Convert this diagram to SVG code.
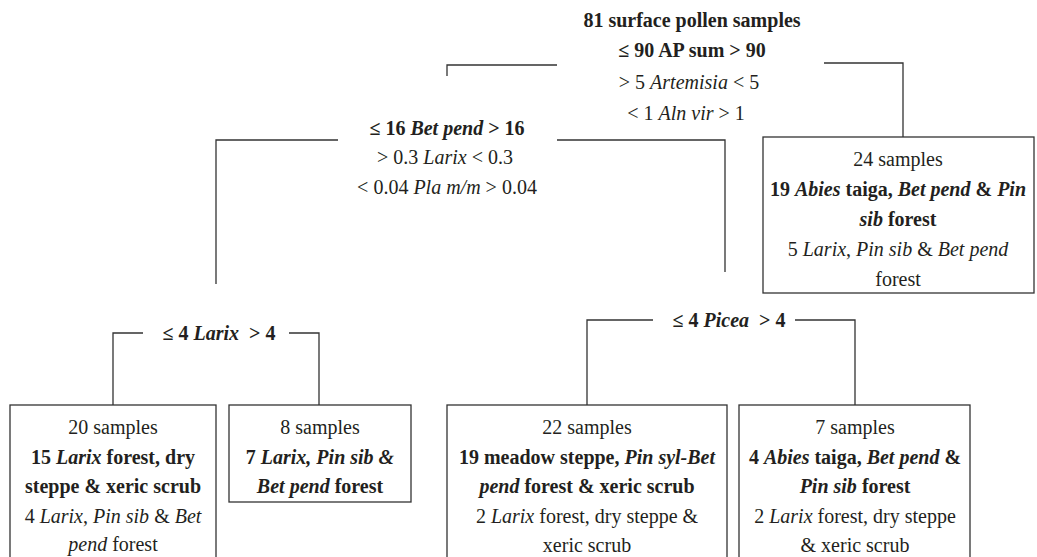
<svg xmlns="http://www.w3.org/2000/svg" width="1037" height="557" viewBox="0 0 1037 557">
<style>
text{font-family:"Liberation Serif","Times New Roman",serif;font-size:20px;fill:#231f20;text-anchor:middle}
.b{font-weight:bold}
.i{font-style:italic}
.box{fill:#fff;stroke:#333;stroke-width:1.3}
.ln{fill:none;stroke:#333;stroke-width:1.3}
</style>
<rect width="1037" height="557" fill="#fff"/>
<g id="connectors">
<path class="ln" d="M447,76 V65 H557"/>
<path class="ln" d="M824,63 H903 V137"/>
<path class="ln" d="M216,284 V140 H338"/>
<path class="ln" d="M557,140 H725 V272"/>
<path class="ln" d="M113,405 V333 H143"/>
<path class="ln" d="M289,333 H319 V405"/>
<path class="ln" d="M587,405 V320 H653"/>
<path class="ln" d="M795,320 H855 V405"/>
</g>
<g id="split-root">
<text x="692" y="27" class="b">81 surface pollen samples</text>
<text x="692" y="57" class="b">≤ 90 AP sum &gt; 90</text>
<text x="689" y="89">&gt; 5 <tspan class="i">Artemisia</tspan> &lt; 5</text>
<text x="686" y="120">&lt; 1 <tspan class="i">Aln vir</tspan> &gt; 1</text>
</g>
<g id="split-betpend">
<text x="447" y="135" class="b">≤ 16 <tspan class="i">Bet pend</tspan> &gt; 16</text>
<text x="445" y="164">&gt; 0.3 <tspan class="i">Larix</tspan> &lt; 0.3</text>
<text x="447" y="194">&lt; 0.04 <tspan class="i">Pla m/m</tspan> &gt; 0.04</text>
</g>
<g id="split-larix">
<text x="219" y="340" class="b">≤ 4 <tspan class="i">Larix</tspan> &#160;&gt; 4</text>
</g>
<g id="split-picea">
<text x="729" y="327" class="b">≤ 4 <tspan class="i">Picea</tspan> &#160;&gt; 4</text>
</g>
<g id="leaf-24">
<rect class="box" x="763" y="137" width="271" height="156"/>
<text x="898" y="166">24 samples</text>
<text x="898" y="196" class="b">19 <tspan class="i">Abies</tspan> taiga, <tspan class="i">Bet pend</tspan> &amp; <tspan class="i">Pin</tspan></text>
<text x="898" y="226" class="b"><tspan class="i">sib</tspan> forest</text>
<text x="898" y="256">5 <tspan class="i">Larix</tspan>, <tspan class="i">Pin sib</tspan> &amp; <tspan class="i">Bet pend</tspan></text>
<text x="898" y="286">forest</text>
</g>
<g id="leaf-20">
<rect class="box" x="10" y="405" width="206" height="160"/>
<text x="113" y="434">20 samples</text>
<text x="113" y="464" class="b">15 <tspan class="i">Larix</tspan> forest, dry</text>
<text x="113" y="493" class="b">steppe &amp; xeric scrub</text>
<text x="113" y="523">4 <tspan class="i">Larix</tspan>, <tspan class="i">Pin sib</tspan> &amp; <tspan class="i">Bet</tspan></text>
<text x="113" y="551"><tspan class="i">pend</tspan> forest</text>
</g>
<g id="leaf-8">
<rect class="box" x="229" y="405" width="182" height="97"/>
<text x="320" y="434">8 samples</text>
<text x="320" y="464" class="b">7 <tspan class="i">Larix, Pin sib &amp;</tspan></text>
<text x="320" y="493" class="b"><tspan class="i">Bet pend</tspan> forest</text>
</g>
<g id="leaf-22">
<rect class="box" x="447" y="405" width="280" height="160"/>
<text x="587" y="434">22 samples</text>
<text x="587" y="464" class="b">19 meadow steppe, <tspan class="i">Pin syl-Bet</tspan></text>
<text x="587" y="493" class="b"><tspan class="i">pend</tspan> forest &amp; xeric scrub</text>
<text x="587" y="523">2 <tspan class="i">Larix</tspan> forest, dry steppe &amp;</text>
<text x="587" y="552">xeric scrub</text>
</g>
<g id="leaf-7">
<rect class="box" x="739" y="405" width="231" height="160"/>
<text x="855" y="434">7 samples</text>
<text x="855" y="464" class="b">4 <tspan class="i">Abies</tspan> taiga, <tspan class="i">Bet pend</tspan> &amp;</text>
<text x="855" y="493" class="b"><tspan class="i">Pin sib</tspan> forest</text>
<text x="855" y="523">2 <tspan class="i">Larix</tspan> forest, dry steppe</text>
<text x="855" y="552">&amp; xeric scrub</text>
</g>
</svg>
